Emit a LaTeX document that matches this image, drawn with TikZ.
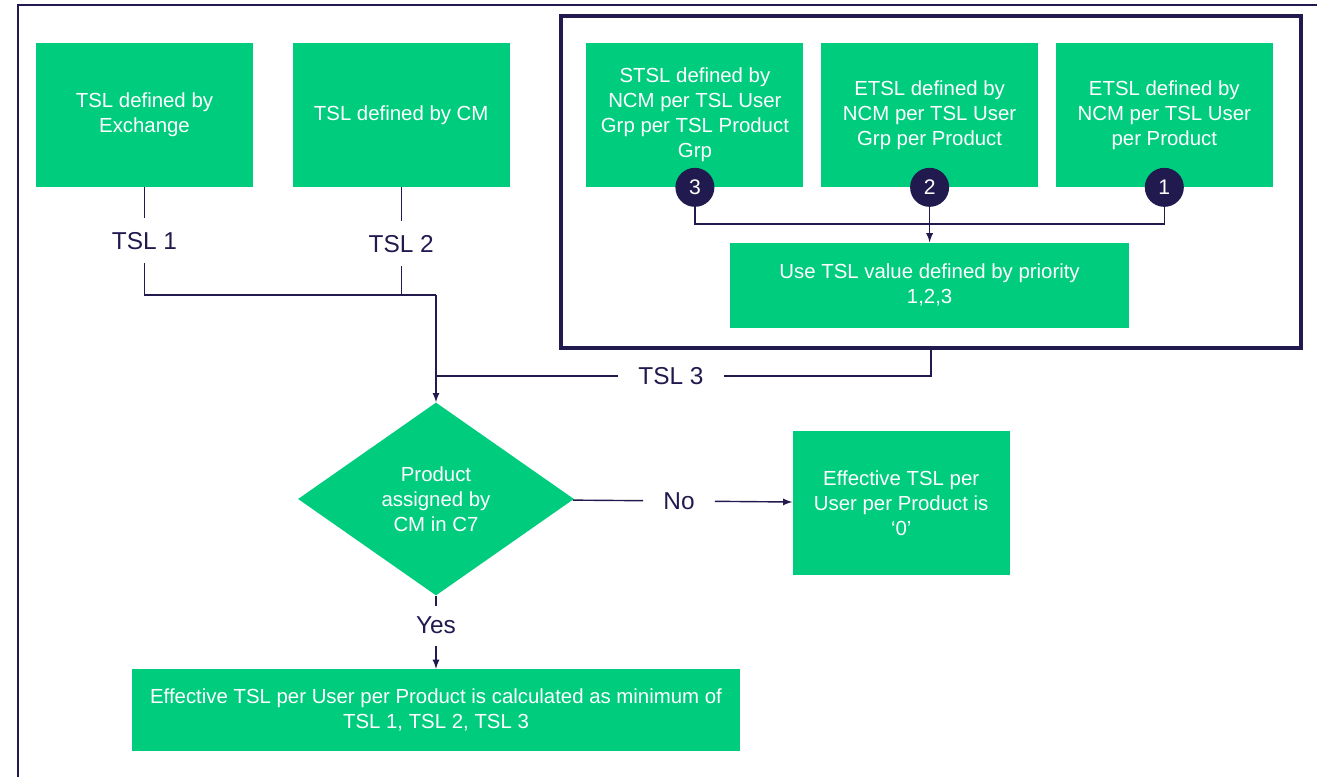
\documentclass[tikz,border=0pt]{standalone}
\usepackage{fontspec}
\setmainfont{Liberation Sans}
\usetikzlibrary{shapes.geometric, arrows, positioning}
\definecolor{tslgreen}{HTML}{00CC7E}
\definecolor{navy}{HTML}{201A4F}
\tikzstyle{process} = [rectangle, minimum width=4.34cm, minimum height=2.88cm, text centered, align=center, fill=tslgreen, text=white, font=\fontsize{11.6}{14.2}\selectfont]
\tikzstyle{decision} = [diamond, aspect=1.43, minimum width=5.52cm, minimum height=3.86cm, inner sep=0pt, align=center, fill=tslgreen, text=white, font=\fontsize{11.6}{14.2}\selectfont]
\tikzstyle{badge} = [circle, fill=navy, text=white, minimum size=0.78cm, inner sep=0pt, font=\fontsize{12}{14}\selectfont]
\tikzstyle{tag} = [text=navy, inner xsep=0.4cm, inner ysep=0pt, minimum height=0.88cm, font=\fontsize{13.9}{16}\selectfont]
\tikzstyle{ncmframe} = [rectangle, draw=navy, line width=2pt, minimum width=14.8cm, minimum height=6.64cm]
\tikzstyle{link} = [draw=navy, line width=0.8pt]
\tikzstyle{arrow} = [link, ->, >=latex]

\begin{document}
\begin{tikzpicture}
\useasboundingbox (0,0) rectangle (26.34,-15.54);
% open border along top and left edge
\draw [navy, line width=1.1pt] (26.34,-0.1) -| (0.36,-15.54);

\node (exch) [process] at (2.89,-2.30) {TSL defined by\\Exchange};
\node (cm) [process, right=0.78cm of exch] {TSL defined by CM};
\node (stsl) [process, right=1.52cm of cm] {STSL defined by\\NCM per TSL User\\Grp per TSL Product\\Grp};
\node (etslg) [process, right=0.34cm of stsl] {ETSL defined by\\NCM per TSL User\\Grp per Product};
\node (etslu) [process, right=0.34cm of etslg] {ETSL defined by\\NCM per TSL User\\per Product};
\node (use) [process, minimum width=7.98cm, minimum height=1.7cm, below=1.1cm of etslg] {Use TSL value defined by priority\\1,2,3};
\node (ncm) [ncmframe] at (18.62,-3.64) {};

% priority badges
\node (badgethree) [badge] at (stsl.south) {3};
\node (badgetwo) [badge] at (etslg.south) {2};
\node (badgeone) [badge] at (etslu.south) {1};
\coordinate (collect) at (18.59,-4.48);

\node (tslone) [tag, below=0.62cm of exch] {TSL 1};
\node (tsltwo) [tag, below=0.68cm of cm] {TSL 2};
\coordinate (merge) at (8.72,-5.9);
\node (tslthree) [tag] at (13.42,-7.52) {TSL 3};

\node (decide) [decision] at (8.72,-9.98) {Product\\assigned by\\CM in C7};
\node (zero) [process, right=4.36cm of decide, yshift=-0.08cm] {Effective TSL per\\User per Product is\\`0'};
\node (no) [tag] at (13.58,-10.02) {No};
\node (yes) [tag, minimum height=0.78cm, below=0.2cm of decide] {Yes};
\node (calc) [process, minimum width=12.16cm, minimum height=1.64cm, below=1.46cm of decide] {Effective TSL per User per Product is calculated as minimum of\\TSL 1, TSL 2, TSL 3};

\draw [link] (exch) -- (tslone);
\draw [link] (tslone) |- (merge);
\draw [link] (cm) -- (tsltwo);
\draw [link] (tsltwo) -- (tsltwo |- merge);
\draw [arrow] (merge) -- (decide);
\draw [link] (badgethree) |- (collect) -| (badgeone);
\draw [arrow] (badgetwo) -- (use);
\draw [link] (ncm) |- (tslthree);
\draw [link] (tslthree) -- (decide.north |- tslthree);
\draw [link] (decide) -- (no);
\draw [arrow] (no) -- (zero);
\draw [link] (decide) -- (yes);
\draw [arrow] (yes) -- (calc);
\end{tikzpicture}
\end{document}
